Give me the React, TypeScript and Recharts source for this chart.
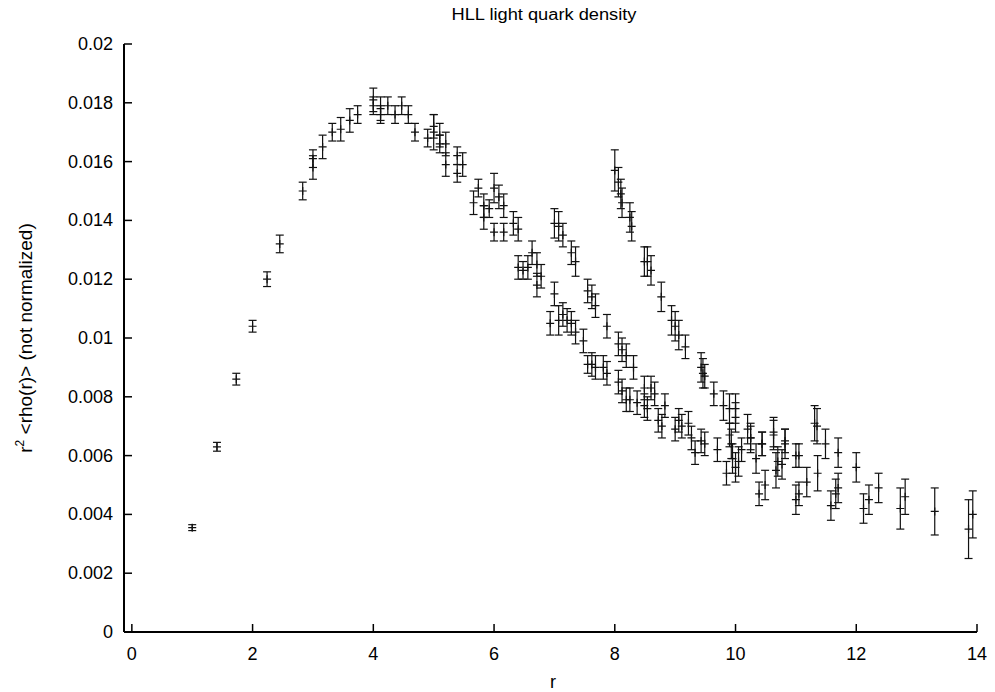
import { ScatterChart, Scatter, XAxis, YAxis, ErrorBar } from 'recharts';

// r, r^2 <rho(r)>, and the half-length of each error bar
const rValues = [
  1.0, 1.41, 1.73, 2.0, 2.24, 2.45, 2.83, 3.0, 3.0, 3.16, 3.32, 3.46, 3.61, 3.74,
  4.0, 4.0, 4.12, 4.12, 4.24, 4.36, 4.47, 4.58, 4.69, 4.9, 5.0, 5.0, 5.1, 5.1, 5.2, 5.2,
  5.39, 5.39, 5.48, 5.66, 5.74, 5.83, 5.83, 5.92, 6.0, 6.08, 6.16, 6.0, 6.16, 6.32,
  6.4, 6.4, 6.48, 6.56, 6.63, 6.71, 6.78, 6.71,
  7.0, 7.07, 7.14, 7.28, 7.35, 7.55, 7.62, 7.68, 7.87,
  7.0, 6.93, 7.07, 7.14, 7.21, 7.28, 7.35, 7.48, 7.55, 7.62, 7.68, 7.81, 7.87, 8.06,
  8.12, 8.19, 8.25, 8.37, 8.49, 8.54, 8.6, 8.66, 8.72, 8.78, 8.83, 9.0, 9.06, 9.11,
  9.22, 9.27, 9.33, 9.43, 9.49, 9.7, 9.85, 9.9, 9.93, 9.95, 10.0, 10.05, 10.1, 10.25,
  10.34, 10.39, 10.44, 10.49, 10.63, 10.67, 10.7, 10.77, 10.82, 11.0, 11.0, 11.05,
  11.18, 11.36, 11.58, 11.66, 11.7,
  8.06, 8.12, 8.19, 8.31, 8.49,
  8.0, 8.06, 8.1, 8.12, 8.25, 8.28, 8.49, 8.54, 8.6, 8.77, 8.94, 9.0, 9.06, 9.17,
  9.43, 9.46, 9.49, 9.64, 9.8, 9.9, 10.0, 10.0, 10.2, 10.25, 10.44, 10.63, 10.82,
  11.05, 11.31, 11.35, 11.49, 11.7, 12.0, 12.12, 12.21, 12.37, 12.73, 12.81, 13.3,
  13.86, 13.93,
];

const densityValues = [
  0.00355, 0.0063, 0.0086, 0.0104, 0.012, 0.0132, 0.015, 0.0158, 0.0161, 0.0165, 0.017,
  0.0171, 0.0174, 0.0176,
  0.0181, 0.0179, 0.0178, 0.0176, 0.0179, 0.0176, 0.0179, 0.0176, 0.017, 0.0168, 0.017,
  0.0172, 0.0169, 0.0166, 0.0166, 0.0159,
  0.0162, 0.0156, 0.0159, 0.0146, 0.0151, 0.0145, 0.0141, 0.0144, 0.0151, 0.0148, 0.0145,
  0.0136, 0.0136, 0.0139,
  0.0137, 0.0124, 0.0123, 0.0124, 0.0129, 0.0125, 0.0121, 0.0118,
  0.0139, 0.0138, 0.0135, 0.0129, 0.0126, 0.0116, 0.0114, 0.0111, 0.0104,
  0.0115, 0.0105, 0.0106, 0.0108, 0.0106, 0.0105, 0.0102, 0.0099, 0.0091, 0.0091, 0.009,
  0.009, 0.0088, 0.0085,
  0.0082, 0.0079, 0.0079, 0.0078, 0.0077, 0.0076, 0.0083, 0.0081, 0.0072, 0.007, 0.0077,
  0.0069, 0.0072, 0.007,
  0.0071, 0.0066, 0.0061, 0.0065, 0.0064, 0.0062, 0.0054, 0.0067, 0.0064, 0.0059, 0.0056,
  0.0058, 0.0062, 0.0066,
  0.0059, 0.0047, 0.0064, 0.005, 0.0067, 0.0055, 0.0058, 0.0057, 0.0064, 0.006, 0.0045,
  0.0047,
  0.0051, 0.0054, 0.0043, 0.0047, 0.0049,
  0.0098, 0.0096, 0.0094, 0.009, 0.0083,
  0.0157, 0.0153, 0.0149, 0.0146, 0.0141, 0.0138, 0.0126, 0.0126, 0.0123, 0.0114, 0.0106,
  0.0104, 0.0101, 0.0097,
  0.009, 0.0088, 0.0087, 0.0081, 0.0077, 0.0076, 0.0076, 0.0073, 0.0069, 0.0066, 0.0064,
  0.0068, 0.0065,
  0.006, 0.0071, 0.007, 0.0064, 0.0061, 0.0056, 0.0042, 0.0045, 0.0049, 0.0042, 0.0046,
  0.0041,
  0.0035, 0.004,
];

const errorValues = [
  0.0001, 0.00015, 0.0002, 0.0002, 0.00025, 0.0003, 0.0003, 0.0004, 0.0003, 0.0004, 0.0003,
  0.0004, 0.0004, 0.0003,
  0.0004, 0.0003, 0.0004, 0.0003, 0.0003, 0.0003, 0.0003, 0.0003, 0.0003, 0.0003, 0.0006,
  0.0004, 0.0004, 0.0003, 0.0004, 0.0004,
  0.0003, 0.0003, 0.0004, 0.0004, 0.0003, 0.0004, 0.0004, 0.0003, 0.0005, 0.0004, 0.0004,
  0.0003, 0.0003, 0.0004,
  0.0004, 0.0004, 0.0003, 0.0004, 0.0004, 0.0004, 0.0004, 0.0004,
  0.0005, 0.0005, 0.0004, 0.0004, 0.0005, 0.0004, 0.0004, 0.0004, 0.0004,
  0.0004, 0.0004, 0.0005, 0.0004, 0.0004, 0.0004, 0.0004, 0.0004, 0.0003, 0.0004, 0.0004,
  0.0004, 0.0004, 0.0004,
  0.0004, 0.0004, 0.0004, 0.0004, 0.0004, 0.0004, 0.0004, 0.0004, 0.0004, 0.0004, 0.0004,
  0.0004, 0.0004, 0.0004,
  0.0004, 0.0004, 0.0004, 0.0004, 0.0004, 0.0004, 0.0004, 0.0004, 0.0005, 0.0005, 0.0005,
  0.0005, 0.0004, 0.0005,
  0.0005, 0.0004, 0.0004, 0.0005, 0.0005, 0.0006, 0.0005, 0.0005, 0.0005, 0.0004, 0.0005,
  0.0004,
  0.0005, 0.0006, 0.0005, 0.0005, 0.0005,
  0.0004, 0.0004, 0.0004, 0.0004, 0.0004,
  0.0007, 0.0005, 0.0005, 0.0005, 0.0005, 0.0005, 0.0005, 0.0005, 0.0005, 0.0005, 0.0005,
  0.0005, 0.0005, 0.0004,
  0.0005, 0.0005, 0.0004, 0.0004, 0.0005, 0.0005, 0.0005, 0.0005, 0.0005, 0.0004, 0.0004,
  0.0005, 0.0004,
  0.0004, 0.0006, 0.0006, 0.0005, 0.0005, 0.0005, 0.0005, 0.0005, 0.0005, 0.0007, 0.0006,
  0.0008,
  0.001, 0.0008,
];

const xTicks = [0, 2, 4, 6, 8, 10, 12, 14];
const yTicks = [0, 0.002, 0.004, 0.006, 0.008, 0.01, 0.012, 0.014, 0.016, 0.018, 0.02];

const data = rValues.map((r, i) => ({ r, v: densityValues[i], err: errorValues[i] }));

const FONT = '"Liberation Sans", Arial, sans-serif';
const TICK = 8;
const INK = '#111';

const fmtY = (v: number) => String(Number(v.toFixed(3)));

const BottomTick = ({ x, y, payload }: any) => (
  <g>
    <line x1={x} y1={y} x2={x} y2={y - TICK} stroke="#000" strokeWidth={1.5} />
    <text x={x} y={y + 28} textAnchor="middle" fontSize={18} fontFamily={FONT} fill="#000">
      {payload.value}
    </text>
  </g>
);

const TopTick = ({ x, y }: any) => (
  <line x1={x} y1={y} x2={x} y2={y + TICK} stroke="#000" strokeWidth={1.5} />
);

const LeftTick = ({ x, y, payload }: any) => (
  <g>
    <line x1={x} y1={y} x2={x + TICK} y2={y} stroke="#000" strokeWidth={1.5} />
    <text x={x - 11} y={y + 6} textAnchor="end" fontSize={18} fontFamily={FONT} fill="#000">
      {fmtY(payload.value)}
    </text>
  </g>
);

const RightTick = ({ x, y }: any) => (
  <line x1={x} y1={y} x2={x - TICK} y2={y} stroke="#000" strokeWidth={1.5} />
);

const Cross = ({ cx, cy }: any) => (
  <path d={`M${cx - 4},${cy}H${cx + 4}M${cx},${cy - 4}V${cy + 4}`} stroke={INK} strokeWidth={1.2} />
);

export default function App() {
  return (
    <div style={{ position: 'absolute', left: 0, top: 0, width: 995, height: 692, background: '#fff' }}>
      <ScatterChart width={995} height={692} margin={{ top: 44, right: 18, bottom: 0, left: 0 }}>
        <XAxis
          xAxisId="b"
          dataKey="r"
          type="number"
          domain={[-0.13, 14]}
          ticks={xTicks}
          interval={0}
          height={60}
          tickSize={0}
          tickMargin={0}
          tickLine={false}
          axisLine={{ stroke: '#000', strokeWidth: 2 }}
          tick={BottomTick}
        />
        <XAxis
          xAxisId="t"
          orientation="top"
          dataKey="r"
          type="number"
          domain={[-0.13, 14]}
          ticks={xTicks}
          interval={0}
          height={0}
          tickSize={0}
          tickMargin={0}
          tickLine={false}
          axisLine={{ stroke: '#000', strokeWidth: 2 }}
          tick={TopTick}
        />
        <YAxis
          yAxisId="l"
          dataKey="v"
          type="number"
          domain={[0, 0.02]}
          ticks={yTicks}
          interval={0}
          width={124}
          tickSize={0}
          tickMargin={0}
          tickLine={false}
          axisLine={{ stroke: '#000', strokeWidth: 2 }}
          tick={LeftTick}
        />
        <YAxis
          yAxisId="r"
          orientation="right"
          dataKey="v"
          type="number"
          domain={[0, 0.02]}
          ticks={yTicks}
          interval={0}
          width={0}
          tickSize={0}
          tickMargin={0}
          tickLine={false}
          axisLine={{ stroke: '#000', strokeWidth: 2 }}
          tick={RightTick}
        />
        <Scatter
          xAxisId="b"
          yAxisId="l"
          data={data}
          shape={Cross}
          isAnimationActive={false}
        >
          <ErrorBar dataKey="err" direction="y" width={4} stroke={INK} strokeWidth={1.2} isAnimationActive={false} />
        </Scatter>
        <Scatter
          xAxisId="t"
          yAxisId="r"
          data={data}
          shape={() => <g />}
          isAnimationActive={false}
        />
      </ScatterChart>
      <svg
        width={995}
        height={692}
        style={{ position: 'absolute', left: 0, top: 0, pointerEvents: 'none' }}
      >
        <text
          x={544}
          y={20}
          textAnchor="middle"
          fontSize={16}
          fontFamily={FONT}
          fill="#000"
          textLength={185}
          lengthAdjust="spacingAndGlyphs"
        >
          HLL light quark density
        </text>
        <text x={553} y={688} textAnchor="middle" fontSize={18} fontFamily={FONT} fill="#000">
          r
        </text>
        <text
          transform="translate(32,338) rotate(-90)"
          textAnchor="middle"
          fontSize={19}
          fontFamily={FONT}
          fill="#000"
        >
          r<tspan fontSize={12} dy={-8}>2</tspan>
          <tspan dy={8}> &lt;rho(r)&gt; (not normalized)</tspan>
        </text>
      </svg>
    </div>
  );
}
